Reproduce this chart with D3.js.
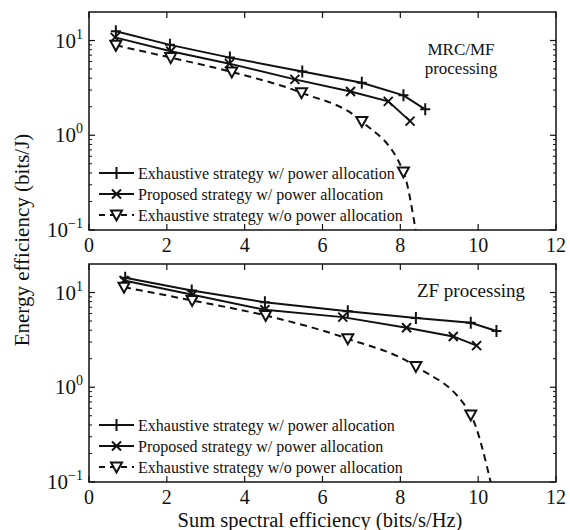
<!DOCTYPE html>
<html><head><meta charset="utf-8">
<script src="https://cdn.jsdelivr.net/npm/d3@7"></script>
<style>
html,body{margin:0;padding:0;background:#fff;}
text{font-family:"Liberation Serif","DejaVu Serif",serif;fill:#111;}
</style></head>
<body><svg id="c" width="570" height="530"></svg>
<script>
// ---------- data ----------
const xTicks = [0, 2, 4, 6, 8, 10, 12];
const yTickExps = [-1, 0, 1];
const legendLabels = ["Exhaustive strategy w/ power allocation",
                      "Proposed strategy w/ power allocation",
                      "Exhaustive strategy w/o power allocation"];
const panelTitles = [["MRC/MF", "processing"], ["ZF processing"]];

// MRC/MF processing
const mrcExhPA_x  = [0.69, 2.08, 3.62, 5.48, 7.01, 8.08, 8.64];
const mrcExhPA_y  = [12.5, 9.0, 6.6, 4.72, 3.59, 2.64, 1.88];
const mrcProp_x   = [0.67, 2.10, 3.61, 5.29, 6.72, 7.69, 8.25];
const mrcProp_y   = [10.8, 7.7, 5.7, 3.89, 2.90, 2.28, 1.41];
const mrcExhNo_x  = [0.69, 2.10, 3.67, 5.46, 7.01, 8.08];
const mrcExhNo_y  = [8.9, 6.6, 4.65, 2.81, 1.40, 0.41];
const mrcExhNoTail_x = [8.42];
const mrcExhNoTail_y = [0.085];

// ZF processing
const zfExhPA_x  = [0.93, 2.64, 4.52, 6.65, 8.40, 9.81, 10.47];
const zfExhPA_y  = [14.3, 10.5, 7.9, 6.36, 5.37, 4.80, 3.92];
const zfProp_x   = [0.90, 2.66, 4.52, 6.52, 8.16, 9.36, 9.96];
const zfProp_y   = [13.4, 9.46, 6.58, 5.5, 4.25, 3.44, 2.75];
const zfExhNo_x  = [0.90, 2.65, 4.54, 6.65, 8.40, 9.81];
const zfExhNo_y  = [11.4, 8.24, 5.72, 3.25, 1.66, 0.51];
const zfExhNoTail_x = [10.36];
const zfExhNoTail_y = [0.085];

// ---------- layout ----------
const svg = d3.select("#c");
const left = 89, right = 556;
const panels = [
  {top: 12, bottom: 230, title: panelTitles[0], titleX: 461, titleY: 55,
   series: [
     {x: mrcExhPA_x, y: mrcExhPA_y, marker: "plus", dash: null},
     {x: mrcProp_x, y: mrcProp_y, marker: "cross", dash: null},
     {x: mrcExhNo_x, y: mrcExhNo_y, tx: mrcExhNoTail_x, ty: mrcExhNoTail_y, marker: "tri", dash: "7,5"}
   ], legendY: [173, 194, 215]},
  {top: 264, bottom: 482, title: panelTitles[1], titleX: 471, titleY: 297,
   series: [
     {x: zfExhPA_x, y: zfExhPA_y, marker: "plus", dash: null},
     {x: zfProp_x, y: zfProp_y, marker: "cross", dash: null},
     {x: zfExhNo_x, y: zfExhNo_y, tx: zfExhNoTail_x, ty: zfExhNoTail_y, marker: "tri", dash: "7,5"}
   ], legendY: [425, 446, 467]}
];

function drawMarker(g, type, cx, cy) {
  if (type === "plus") {
    g.append("path").attr("d", `M${cx-5},${cy}H${cx+5}M${cx},${cy-6}V${cy+6}`)
      .attr("stroke", "#111").attr("stroke-width", 2).attr("fill", "none");
  } else if (type === "cross") {
    g.append("path").attr("d", `M${cx-4.5},${cy-4.5}L${cx+4.5},${cy+4.5}M${cx-4.5},${cy+4.5}L${cx+4.5},${cy-4.5}`)
      .attr("stroke", "#111").attr("stroke-width", 2).attr("fill", "none");
  } else {
    g.append("path").attr("d", `M${cx-5.5},${cy-4.5}L${cx+5.5},${cy-4.5}L${cx},${cy+5.5}Z`)
      .attr("stroke", "#111").attr("stroke-width", 2).attr("fill", "#fff");
  }
}

panels.forEach((p, pi) => {
  const x = d3.scaleLinear().domain([0, 12]).range([left, right]);
  const y = d3.scaleLog().domain([0.1, 20]).range([p.bottom, p.top]);
  const g = svg.append("g");
  const clipId = "clip" + pi;
  svg.append("defs").append("clipPath").attr("id", clipId)
    .append("rect").attr("x", left).attr("y", p.top).attr("width", right - left).attr("height", p.bottom - p.top);

  // minor y ticks (left and right, inward)
  const minors = [];
  for (let e = -1; e <= 1; e++) for (let m = 2; m <= 9; m++) {
    const v = m * Math.pow(10, e); if (v < 20) minors.push(v);
  }
  minors.forEach(v => {
    const yy = y(v);
    g.append("line").attr("x1", left).attr("x2", left + 3).attr("y1", yy).attr("y2", yy).attr("stroke", "#111").attr("stroke-width", 1);
    g.append("line").attr("x1", right).attr("x2", right - 3).attr("y1", yy).attr("y2", yy).attr("stroke", "#111").attr("stroke-width", 1);
  });
  yTickExps.forEach(e => {
    const yy = y(Math.pow(10, e));
    g.append("line").attr("x1", left).attr("x2", left + 6).attr("y1", yy).attr("y2", yy).attr("stroke", "#111").attr("stroke-width", 1.2);
    g.append("line").attr("x1", right).attr("x2", right - 6).attr("y1", yy).attr("y2", yy).attr("stroke", "#111").attr("stroke-width", 1.2);
    const t = g.append("text").attr("x", 83).attr("y", yy + 7).attr("text-anchor", "end").attr("font-size", 21);
    t.append("tspan").text("10");
    t.append("tspan").attr("dy", -9).attr("font-size", 14).text(e === -1 ? "\u22121" : String(e));
  });
  // x ticks top & bottom
  xTicks.forEach(v => {
    const xx = x(v);
    g.append("line").attr("x1", xx).attr("x2", xx).attr("y1", p.bottom).attr("y2", p.bottom - 6).attr("stroke", "#111").attr("stroke-width", 1.2);
    g.append("line").attr("x1", xx).attr("x2", xx).attr("y1", p.top).attr("y2", p.top + 6).attr("stroke", "#111").attr("stroke-width", 1.2);
    g.append("text").attr("x", xx).attr("y", p.bottom + 22).attr("text-anchor", "middle").attr("font-size", 20).text(v);
  });
  // frame
  g.append("rect").attr("x", left).attr("y", p.top).attr("width", right - left).attr("height", p.bottom - p.top)
    .attr("fill", "none").attr("stroke", "#111").attr("stroke-width", 1.5);

  // series
  const line = d3.line().x(d => x(d[0])).y(d => y(d[1]));
  const plotG = g.append("g").attr("clip-path", `url(#${clipId})`);
  p.series.forEach(s => {
    let pts = s.x.map((v, i) => [v, s.y[i]]);
    if (s.tx) pts = pts.concat(s.tx.map((v, i) => [v, s.ty[i]]));
    plotG.append("path")
      .attr("d", s.dash ? line.curve(d3.curveMonotoneX)(pts) : line.curve(d3.curveLinear)(pts))
      .attr("fill", "none").attr("stroke", "#111").attr("stroke-width", 2)
      .attr("stroke-dasharray", s.dash);
  });
  p.series.forEach(s => {
    s.x.forEach((v, i) => drawMarker(plotG, s.marker, x(v), y(s.y[i])));
  });

  // legend
  p.series.forEach((s, i) => {
    const ly = p.legendY[i];
    g.append("line").attr("x1", 99).attr("x2", 134).attr("y1", ly).attr("y2", ly)
      .attr("stroke", "#111").attr("stroke-width", 2).attr("stroke-dasharray", s.dash ? "6,5" : null);
    drawMarker(g, s.marker, 116.5, ly);
    g.append("text").attr("x", 138).attr("y", ly + 5.5).attr("font-size", 16).text(legendLabels[i]);
  });

  // title
  p.title.forEach((t, i) => {
    g.append("text").attr("x", p.titleX).attr("y", p.titleY + i * 19).attr("text-anchor", "middle").attr("font-size", pi === 0 ? 17 : 19).text(t);
  });
});

// axis labels
svg.append("text").attr("transform", "translate(29,240) rotate(-90)").attr("text-anchor", "middle")
  .attr("font-size", 21).text("Energy efficiency (bits/J)");
svg.append("text").attr("x", 320).attr("y", 527).attr("text-anchor", "middle")
  .attr("font-size", 20.5).text("Sum spectral efficiency (bits/s/Hz)");
</script></body></html>
